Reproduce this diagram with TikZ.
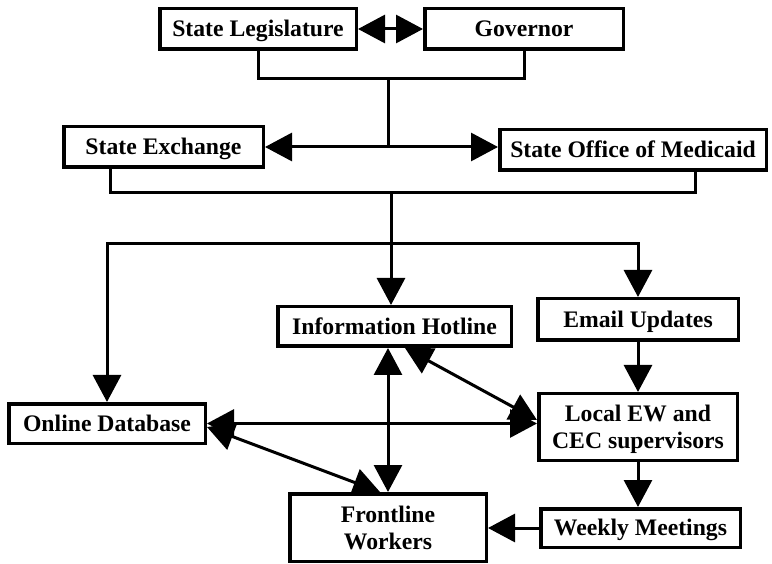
\documentclass[tikz,border=0pt]{standalone}
\usepackage{fontspec}
\setmainfont{Liberation Serif}
\usetikzlibrary{arrows.meta}
\begin{document}
\begin{tikzpicture}[x=1pt,y=-1pt,
  box/.style={draw, line width=3.5pt, fill=white, font=\fontsize{23.7}{27}\selectfont\bfseries, align=center, inner sep=0pt, text depth=0pt},
  one/.style={box, text height=15.6pt},
  conn/.style={line width=3pt, line join=miter},
  tipa/.tip={Triangle[length=27pt,width=28pt]},
  arr/.style={conn, -tipa},
  arrb/.style={conn, tipa-tipa},
]
\useasboundingbox (0,0) rectangle (772,564);
\node[one, minimum width=196.5pt, minimum height=40.5pt] (sl) at (258,29) {State Legislature};
\node[one, minimum width=198.5pt, minimum height=40.5pt] (gov) at (524,29) {Governor};
\node[one, minimum width=199.5pt, minimum height=40.5pt] (se) at (163.5,147) {State Exchange};
\node[one, minimum width=266.5pt, minimum height=40.5pt] (so) at (633,150) {State Office of Medicaid};
\node[one, minimum width=233.5pt, minimum height=39.5pt] (hot) at (394.5,326.5) {Information Hotline};
\node[one, minimum width=200.5pt, minimum height=41.5pt] (email) at (638,319.5) {Email Updates};
\node[box, minimum width=198.5pt, minimum height=66.5pt] (loc) at (638,427) {Local EW and\\CEC supervisors};
\node[one, minimum width=199.5pt, minimum height=38.5pt] (wk) at (640.5,528) {Weekly Meetings};
\node[box, minimum width=196.5pt, minimum height=67.5pt] (fl) at (388,527.5) {Frontline\\Workers};
\node[one, minimum width=196.5pt, minimum height=39.5pt] (odb) at (107,423.5) {Online Database};
\coordinate (j1) at (388,79);
\coordinate (j2) at (391,193);
\coordinate (j3) at (391,244);
% top bracket
\draw[conn] (sl.south) |- (j1) -| (gov.south);
\draw[arrb] (sl.east) -- (gov.west);
\draw[conn] (j1) -- (j1 |- se.east);
\draw[arr] (j1 |- se.east) -- (se.east);
\draw[arr] (j1 |- se.east) -- (so.west |- se.east);
% second bracket
\draw[conn] ([xshift=-53.5pt]se.south) |- (j2) -| ([xshift=62pt]so.south);
\draw[arr] (j2) -- (j2 |- hot.north);
\draw[arr] (j3) -| (odb.north);
\draw[arr] (j3) -| (email.north);
% lower network
\draw[arr] (email.south) -- (email.south |- loc.north);
\draw[arr] (loc.south) -- (loc.south |- wk.north);
\draw[arr] (wk.west) -- (wk.west -| fl.east);
\draw[arrb] (odb.east) -- (odb.east -| loc.west);
\draw[arrb] (fl.north) -- (fl.north |- hot.south);
\draw[arrb] ([xshift=10.5pt]hot.south) -- ([yshift=7pt]loc.west);
\draw[arrb] ([yshift=-3.5pt]odb.east) -- ([xshift=-8pt]fl.north);
\end{tikzpicture}
\end{document}
